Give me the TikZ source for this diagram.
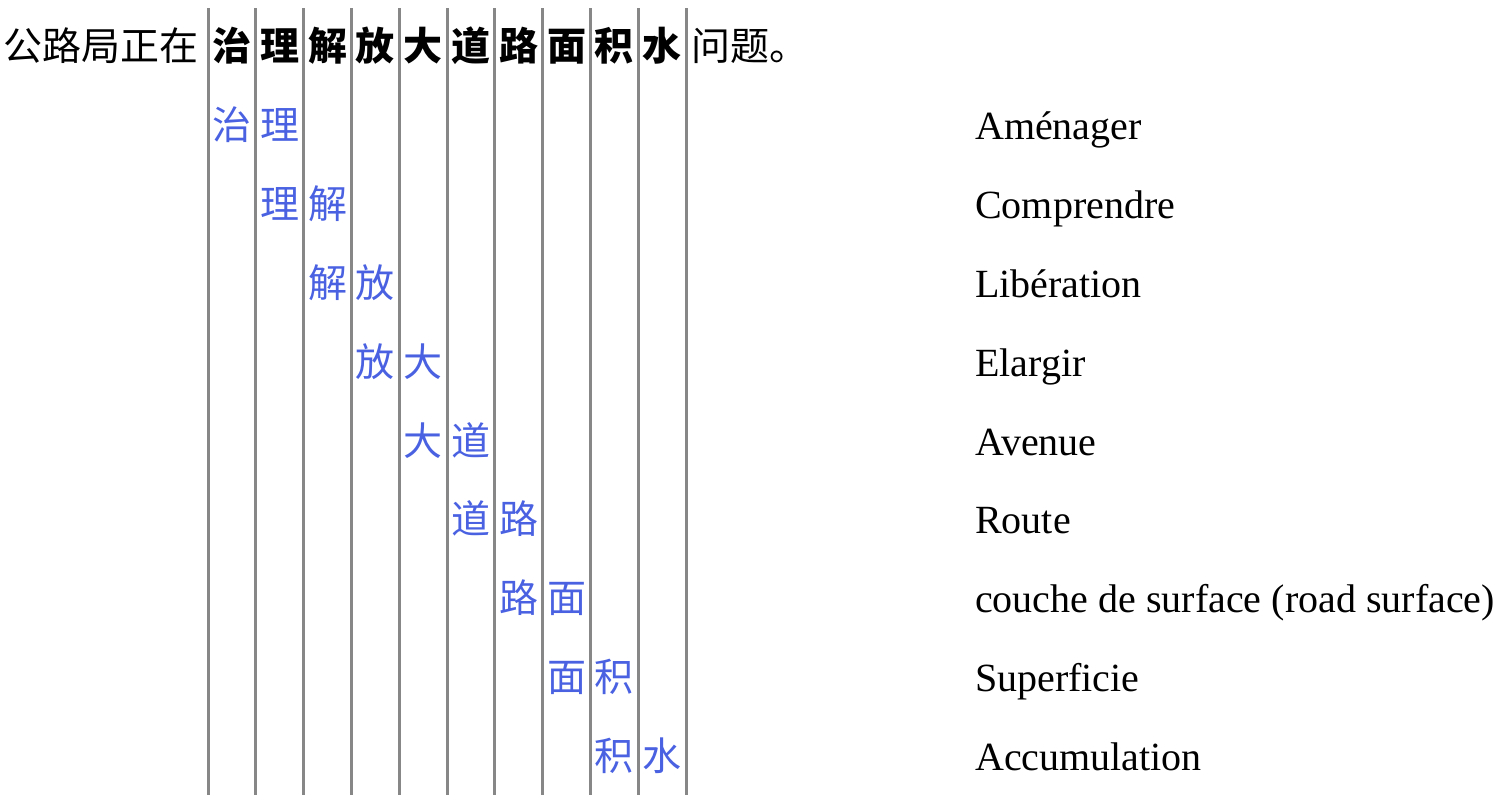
\documentclass[tikz,border=0pt]{standalone}
\usepackage{fontspec}
\setmainfont{Liberation Serif}
\newfontfamily\cjk{Noto Sans CJK SC}
\definecolor{gloss}{RGB}{74,98,226}
\definecolor{rule}{RGB}{135,135,135}
\tikzset{
  cjktext/.style={anchor=base, inner sep=0pt, font=\cjk\fontsize{39}{41}\selectfont},
  headchar/.style={cjktext, font=\cjk\bfseries\fontsize{39}{41}\selectfont},
  glosschar/.style={cjktext, text=gloss},
  meaning/.style={anchor=base west, inner sep=0pt, font=\fontsize{40}{44}\selectfont},
  colrule/.style={draw=rule, line width=3pt}
}
\begin{document}
\begin{tikzpicture}[x=1pt, y=-1pt]
\useasboundingbox (0,0) rectangle (1501,805);
% column rules
\foreach \k in {0,...,10}{
  \coordinate (t\k) at ({208+47.8*\k}, 8);
  \coordinate (b\k) at ({208+47.8*\k}, 795);
  \draw[colrule] (t\k) -- (b\k);
}
% top sentence
\node[cjktext, anchor=base east] (pre) at (199, 61) {公路局正在};
\foreach \c [count=\i from 0] in {治,理,解,放,大,道,路,面,积,水}{
  \node[headchar] (h\i) at ({232+47.8*\i}, 61) {\c};
}
\node[cjktext, anchor=base west] (post) at (691, 61) {问题。};
% gloss rows
\foreach \a/\b/\m [count=\i from 0] in {
  治/理/Aménager,
  理/解/Comprendre,
  解/放/Libération,
  放/大/Elargir,
  大/道/Avenue,
  道/路/Route,
  路/面/couche de surface (road surface),
  面/积/Superficie,
  积/水/Accumulation}{
  \node[glosschar] (ga\i) at ({232+47.8*\i}, {140+78.75*\i}) {\a};
  \node[glosschar] (gb\i) at ({232+47.8*(\i+1)}, {140+78.75*\i}) {\b};
  \node[meaning] (m\i) at (975, {140+78.75*\i}) {\m};
}
\end{tikzpicture}
\end{document}
